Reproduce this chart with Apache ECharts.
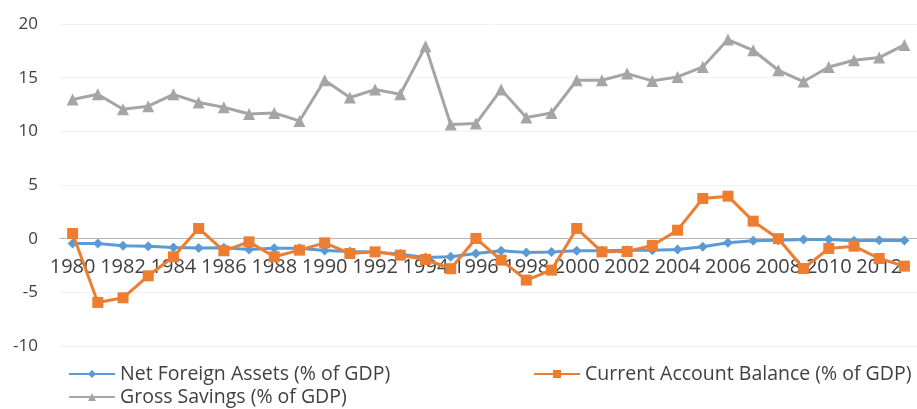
<!DOCTYPE html>
<html><head><meta charset="utf-8">
<script src="https://cdn.jsdelivr.net/npm/echarts@6/dist/echarts.min.js"></script>
<style>html,body{margin:0;padding:0;background:#fff}#c{width:917px;height:409px}</style>
</head><body><div id="c"></div>
<script>
const years = ['1980','1981','1982','1983','1984','1985','1986','1987','1988','1989','1990','1991','1992','1993','1994','1995','1996','1997','1998','1999','2000','2001','2002','2003','2004','2005','2006','2007','2008','2009','2010','2011','2012','2013'];
const netForeignAssets = [-0.45,-0.45,-0.67,-0.7,-0.82,-0.88,-0.85,-1.0,-0.9,-0.9,-1.1,-1.2,-1.25,-1.44,-1.75,-1.69,-1.38,-1.13,-1.29,-1.25,-1.13,-1.13,-1.08,-1.07,-1.0,-0.76,-0.39,-0.2,-0.15,-0.07,-0.07,-0.2,-0.15,-0.17];
const currentAccount = [0.48,-5.94,-5.51,-3.46,-1.69,0.95,-1.13,-0.3,-1.69,-1.07,-0.39,-1.38,-1.23,-1.54,-1.94,-2.8,0.02,-2.0,-3.86,-2.93,0.95,-1.23,-1.2,-0.63,0.79,3.74,3.96,1.63,0.0,-2.78,-0.91,-0.7,-1.85,-2.56];
const grossSavings = [12.96,13.45,12.06,12.34,13.45,12.68,12.24,11.62,11.71,10.97,14.76,13.15,13.89,13.45,17.92,10.63,10.72,13.89,11.28,11.71,14.76,14.76,15.38,14.7,15.07,16.0,18.55,17.55,15.69,14.64,16.0,16.62,16.87,18.05];
const seriesNames = ['Net Foreign Assets (% of GDP)','Current Account Balance (% of GDP)','Gross Savings (% of GDP)'];
const yTicks = {min:-10,max:20,interval:5};

const gridTop = 24, gridHeight = 322;
// place the category axis at y = 0 on the value scale
const zeroOffset = -gridHeight * (0 - yTicks.min) / (yTicks.max - yTicks.min);

const chart = echarts.init(document.getElementById('c'));
const font = 'Open Sans';
const legendText = {fontFamily:font,fontSize:19.5,color:'#404040'};
chart.setOption({
  animation:false,
  grid:{left:60,top:gridTop,width:863,height:gridHeight},
  xAxis:{type:'category',data:years,boundaryGap:true,position:'bottom',offset:zeroOffset,
    axisLine:{onZero:false,lineStyle:{color:'#b5b5b5',width:1}},
    axisTick:{show:false},
    axisLabel:{interval:1,margin:19,fontFamily:font,fontSize:20,color:'#404040'},
    splitLine:{show:false}},
  yAxis:{type:'value',min:yTicks.min,max:yTicks.max,interval:yTicks.interval,
    axisLine:{show:false},axisTick:{show:false},
    axisLabel:{margin:22,fontFamily:font,fontSize:17,color:'#404040'},
    splitLine:{lineStyle:{color:'#f2f2f2'}}},
  legend:[
    {data:[seriesNames[0]],left:63,top:359,itemWidth:46,itemHeight:10,itemGap:0,textStyle:legendText},
    {data:[seriesNames[1]],left:528,top:359,itemWidth:46,itemHeight:10,itemGap:0,textStyle:legendText},
    {data:[seriesNames[2]],left:63,top:382,itemWidth:46,itemHeight:10,itemGap:0,textStyle:legendText}
  ],
  series:[
    {name:seriesNames[0],type:'line',data:netForeignAssets,symbol:'diamond',symbolSize:10,
      lineStyle:{color:'#5B9BD5',width:3},itemStyle:{color:'#5B9BD5'},z:3},
    {name:seriesNames[1],type:'line',data:currentAccount,symbol:'rect',symbolSize:11,
      lineStyle:{color:'#ED7D31',width:3},itemStyle:{color:'#ED7D31'},z:4},
    {name:seriesNames[2],type:'line',data:grossSavings,symbol:'triangle',symbolSize:12,
      lineStyle:{color:'#A5A5A5',width:3},itemStyle:{color:'#A5A5A5'},z:2}
  ]
});
</script></body></html>
